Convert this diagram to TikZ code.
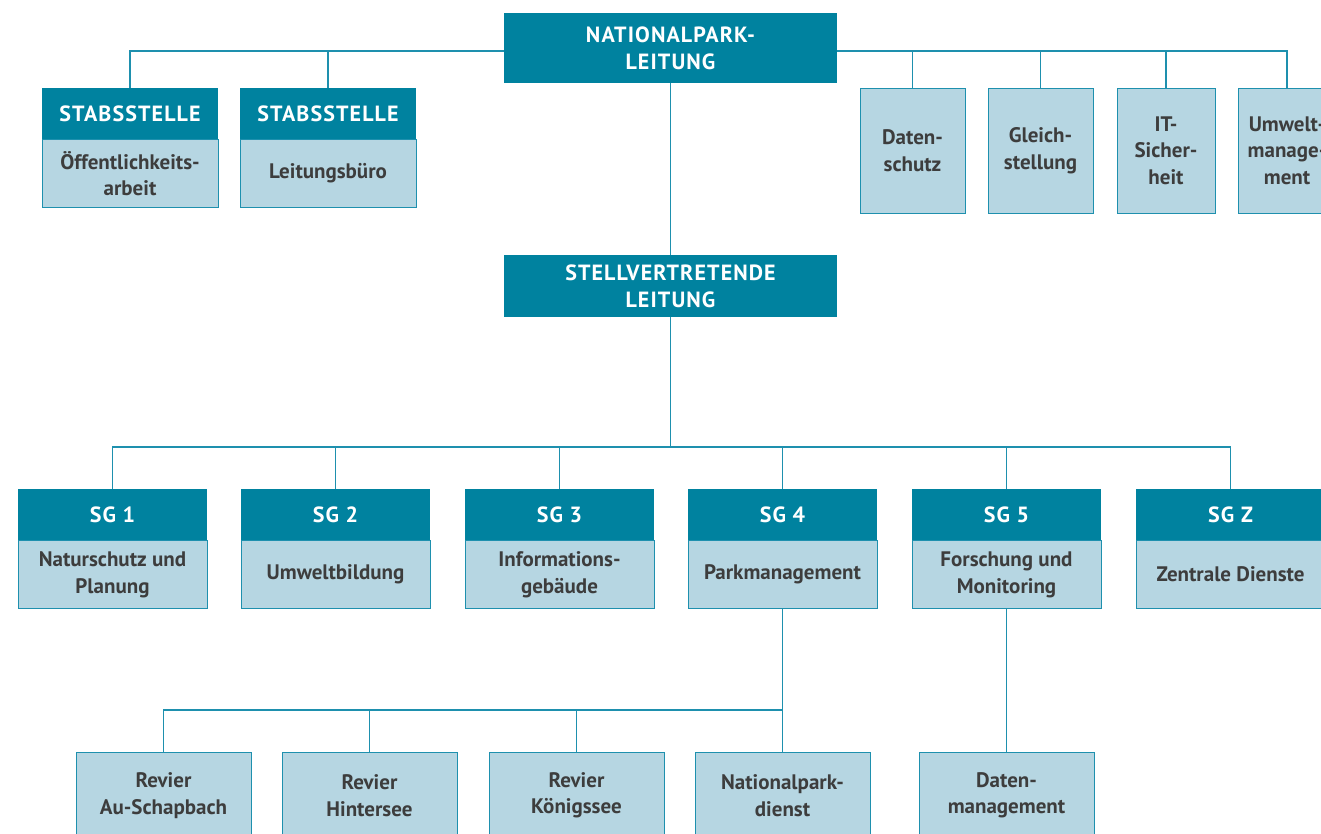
\documentclass[tikz,border=0pt]{standalone}
\usepackage{fontspec}
\setmainfont{PT Sans}
\usetikzlibrary{positioning}

\definecolor{npteal}{HTML}{00829F}
\definecolor{nplight}{HTML}{B6D6E2}
\definecolor{npline}{HTML}{1E90AE}
\definecolor{npgray}{HTML}{3D3D3D}

\tikzset{
  head/.style={fill=npteal, text=white, inner sep=0pt, align=center,
    font=\bfseries\fontsize{22}{27}\selectfont\addfontfeatures{LetterSpace=5}},
  unit/.style={fill=nplight, draw=npline, line width=0.9pt, text=npgray, inner sep=0pt,
    align=center, font=\bfseries\fontsize{21}{26.5}\selectfont},
  conn/.style={draw=npline, line width=1.5pt}
}

\begin{document}
\begin{tikzpicture}[x=1pt,y=-1pt]
   \useasboundingbox (0,0) rectangle (1321,834);
   % leitung
   \node[head, minimum width=333pt, minimum height=70pt] (top) at (670.5,48) {NATIONALPARK-\\LEITUNG};
   \node[head, minimum width=333pt, minimum height=62pt] (stv) at (670.5,286) {STELLVERTRETENDE\\LEITUNG};
   % stabsstellen
   \node[head, minimum width=176pt, minimum height=51pt] (st1h) at (130,113.5) {STABSSTELLE};
   \node[unit, minimum width=176pt, minimum height=68pt, below=0pt of st1h] (st1) {Öffentlichkeits-\\arbeit};
   \node[head, minimum width=176pt, minimum height=51pt] (st2h) at (328,113.5) {STABSSTELLE};
   \node[unit, minimum width=176pt, minimum height=68pt, below=0pt of st2h] (st2) {Leitungsbüro};
   % beauftragte
   \node[unit, minimum width=105pt, minimum height=125pt] (ds) at (912.5,150.5) {Daten-\\schutz};
   \node[unit, minimum width=105pt, minimum height=125pt] (gl) at (1040.5,150.5) {Gleich-\\stellung};
   \node[unit, minimum width=98pt, minimum height=125pt] (its) at (1166,150.5) {IT-\\Sicher-\\heit};
   \node[unit, minimum width=98pt, minimum height=125pt] (um) at (1287,150.5) {Umwelt-\\manage-\\ment};
   % sachgebiete
   \foreach \n/\x/\t/\b in {sg1/112.5/SG 1/{Naturschutz und\\Planung},
                           sg2/335.5/SG 2/Umweltbildung,
                           sg3/559.5/SG 3/{Informations-\\gebäude},
                           sg4/782.5/SG 4/Parkmanagement,
                           sg5/1006.5/SG 5/{Forschung und\\Monitoring},
                           sgz/1230.5/SG Z/Zentrale Dienste}{
     \node[head, minimum width=189pt, minimum height=51pt] (\n h) at (\x,514.5) {\t};
     \node[unit, minimum width=189pt, minimum height=68pt, below=0pt of \n h] (\n) {\b};
   }
   % reviere
   \foreach \n/\x/\t in {rv1/163.5/{Revier\\Au-Schapbach},
                        rv2/369.5/{Revier\\Hintersee},
                        rv3/576.5/{Revier\\Königssee},
                        npd/782.5/{Nationalpark-\\dienst},
                        dm/1006.5/{Daten-\\management}}
     \node[unit, minimum width=175pt, minimum height=87pt] (\n) at (\x,795.5) {\t};

   % verbindungen
   \coordinate (sgbus) at (670.5,447);
   \coordinate (rvbus) at (782.5,710);
   \draw[conn] (st1h.north) |- ([yshift=-3pt]top.west);
   \draw[conn] (st2h.north) |- ([yshift=-3pt]top.west);
   \foreach \n in {ds,gl,its,um}
     \draw[conn] ([yshift=-3pt]top.east) -| (\n.north);
   \draw[conn] (top.south) -- (stv.north);
   \draw[conn] (stv.south) -- (sgbus);
   \foreach \n in {sg1h,sg2h,sg3h,sg4h,sg5h,sgzh}
     \draw[conn] (sgbus) -| (\n.north);
   \draw[conn] (sg4.south) -- (rvbus);
   \foreach \n in {rv1,rv2,rv3,npd}
     \draw[conn] (rvbus) -| (\n.north);
   \draw[conn] (sg5.south) -- (dm.north);
\end{tikzpicture}
\end{document}
